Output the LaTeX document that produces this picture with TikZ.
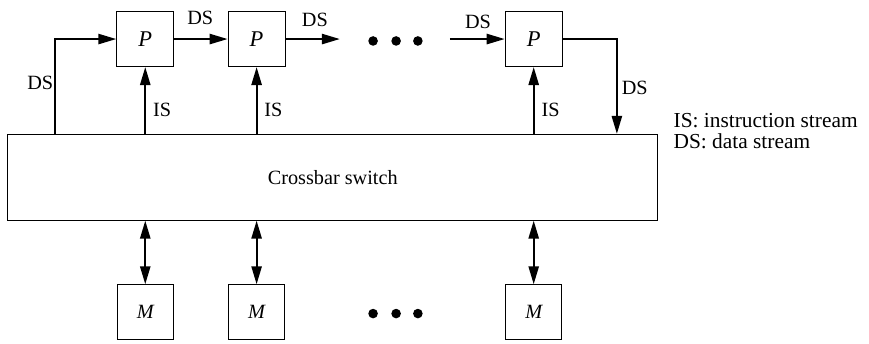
\documentclass[tikz,border=0pt]{standalone}
\usepackage{fontspec}
\setmainfont{Liberation Serif}
\usetikzlibrary{arrows.meta,positioning}
\begin{document}
\begin{tikzpicture}[
  pe/.style={rectangle, draw, line width=0.5pt, minimum width=8.9mm,
             minimum height=8.6mm, font=\itshape},
  mem/.style={rectangle, draw, line width=0.5pt, minimum width=8.7mm,
              minimum height=8.6mm, font=\small\itshape},
  xbar/.style={rectangle, draw, line width=0.5pt, minimum width=101.6mm,
               minimum height=13.4mm, font=\small},
  lbl/.style={font=\small, inner sep=1pt},
  legend/.style={anchor=west, inner sep=0pt, font=\fontsize{9.5}{9}\selectfont},
  arr/.style={-{Triangle[length=2.8mm, width=1.6mm]}, thick},
  biarr/.style={{Triangle[length=2.8mm, width=1.6mm]}-{Triangle[length=2.8mm, width=1.6mm]}, thick},
  dot/.style={circle, fill, inner sep=0pt, minimum size=1.5mm}
]
  \useasboundingbox (0,0) rectangle (13.58,-5.36);

  % Crossbar
  \node[xbar] (cb) at (5.20,-2.77) {Crossbar switch};

  % Processors and memories
  \foreach \i/\x in {1/2.27, 2/4.01, 3/8.34} {
    \node[pe] (p\i) at (\x,-0.61) {P};
    \node[mem] (m\i) at (\x,-4.88) {M};
    \draw[arr] (cb.north -| p\i) -- (p\i);
    \draw[biarr] (cb.south -| m\i) -- (m\i);
    \node[lbl, right] (is\i) at (\x+0.08,-1.72) {IS};
  }

  % Ellipses
  \foreach \j/\x in {1/5.83, 2/6.19, 3/6.53} {
    \node[dot] (t\j) at (\x,-0.64) {};
    \node[dot] (b\j) at (\x,-4.90) {};
  }

  % Data stream
  \coordinate (dsin) at (0.86,-0.61);
  \coordinate (d2) at (5.31,-0.61);
  \coordinate (d3) at (7.03,-0.61);
  \coordinate (dsout) at (9.64,-0.61);
  \draw[arr] (cb.north -| dsin) -- (dsin) -- (p1);
  \draw[arr] (p1) -- (p2);
  \draw[arr] (p2) -- (d2);
  \draw[arr] (d3) -- (p3);
  \draw[arr] (p3.east) -| (cb.north -| dsout);

  \node[lbl] (ds0) at (0.63,-1.30) {DS};
  \node[lbl] (ds1) at (3.13,-0.28) {DS};
  \node[lbl] (ds2) at (4.92,-0.31) {DS};
  \node[lbl] (ds3) at (7.47,-0.34) {DS};
  \node[lbl] (ds4) at (9.92,-1.37) {DS};

  % Legend
  \node[legend] (leg1) at (10.52,-1.89) {IS: instruction stream};
  \node[legend] (leg2) at (10.52,-2.20) {DS: data stream};
\end{tikzpicture}
\end{document}
